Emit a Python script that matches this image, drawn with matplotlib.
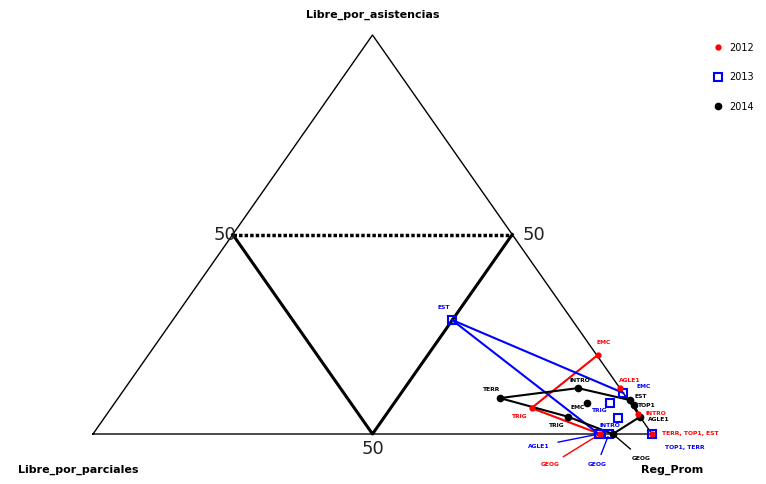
import matplotlib.pyplot as plt

# composiciones: (Reg_Prom, Libre_por_asistencias, Libre_por_parciales) en %
materias_2012 = ['EMC', 'AGLE1', 'INTRO', 'TERR, TOP1, EST', 'TRIG', 'GEOG']
reg_2012 = [80.4, 88.5, 94.9, 100.0, 75.2, 90.7]
asi_2012 = [19.8, 11.5, 5.1, 0.0, 6.5, 0.0]

materias_2013 = ['EST', 'EMC', 'TRIG', 'INTRO', 'AGLE1', 'GEOG', 'TOP1, TERR']
reg_2013 = [49.9, 89.7, 88.6, 91.9, 90.5, 92.3, 100.0]
asi_2013 = [28.6, 10.3, 7.8, 4.0, 0.0, 0.0, 0.0]

materias_2014 = ['TERR', 'INTRO', 'EMC', 'TRIG', 'EST', 'TOP1', 'AGLE1', 'GEOG']
reg_2014 = [68.3, 81.0, 84.5, 82.9, 91.8, 93.1, 95.7, 93.0]
asi_2014 = [9.0, 11.5, 7.8, 4.3, 8.5, 7.3, 4.3, 0.0]

# orden del polígono (envolvente) por año
hull_2012 = ['TRIG', 'EMC', 'AGLE1', 'INTRO', 'TERR, TOP1, EST', 'GEOG', 'TRIG']
hull_2013 = ['EST', 'EMC', 'TOP1, TERR', 'AGLE1', 'EST']
hull_2014 = ['TERR', 'INTRO', 'EST', 'TOP1', 'AGLE1', 'GEOG', 'TRIG', 'TERR']


def to_xy(reg, asi):
    # coordenadas cartesianas del triángulo
    x = [(r + a / 2) / 100 for r, a in zip(reg, asi)]
    y = [a / 100 for a in asi]
    return x, y


def en_borde(r, a):
    # punto sobre el lado derecho o la base
    return abs(100 - r - a) < 0.5 or a < 0.5


fig = plt.figure(figsize=(7.66, 4.84), dpi=100)
ax = fig.add_axes([0, 0, 1, 1])
ax.set_xlim(-93 / 559, 673 / 559)
ax.set_ylim(-50 / 399, 434 / 399)
ax.axis('off')

# triángulo exterior
ax.plot([0, 1, 0.5, 0], [0, 0, 1, 0], color='black', lw=1, zorder=2)
# triángulo interior (50%)
ax.plot([0.25, 0.5, 0.75], [0.5, 0, 0.5], color='black', lw=2.2)
ax.plot([0.25, 0.75], [0.5, 0.5], color='black', lw=2.5, ls=(0, (1, 0.6)))

ax.annotate('50', (0.25, 0.5), xytext=(4, 0), textcoords='offset pixels',
            ha='right', va='center', fontsize=13, color='#222222')
ax.annotate('50', (0.75, 0.5), xytext=(10, 0), textcoords='offset pixels',
            ha='left', va='center', fontsize=13, color='#222222')
ax.text(0.5, -0.015, '50', ha='center', va='top', fontsize=13, color='#222222')

ax.text(0.5, 1.05, 'Libre_por_asistencias', ha='center', va='center', fontsize=8, fontweight='bold')
ax.text(-0.027, -0.09, 'Libre_por_parciales', ha='center', va='center', fontsize=8, fontweight='bold')
ax.text(1.036, -0.09, 'Reg_Prom', ha='center', va='center', fontsize=8, fontweight='bold')

series = [
    (materias_2012, reg_2012, asi_2012, hull_2012, 'red', 'o', '2012'),
    (materias_2013, reg_2013, asi_2013, hull_2013, 'blue', 's', '2013'),
    (materias_2014, reg_2014, asi_2014, hull_2014, 'black', 'o', '2014'),
]

for nombres, reg, asi, hull, color, mk, anio in series:
    x, y = to_xy(reg, asi)
    idx = [nombres.index(n) for n in hull]
    for i, j in zip(idx[:-1], idx[1:]):
        if color != 'black' and en_borde(reg[i], asi[i]) and en_borde(reg[j], asi[j]):
            continue
        ax.plot([x[i], x[j]], [y[i], y[j]], color=color, lw=1.5, zorder=3)
    if mk == 's':
        ax.plot(x, y, ls='none', marker='s', ms=6, mfc='none', mec=color, mew=1.5, zorder=4, label=anio)
    elif color == 'red':
        ax.plot(x, y, ls='none', marker='o', ms=3.5, color=color, zorder=5, label=anio)
    else:
        ax.plot(x, y, ls='none', marker='o', ms=4.5, color=color, zorder=4, label=anio)

# etiquetas de puntos (desplazamiento en pixeles)
offsets = {
    ('red', 'EMC'): (6, 12, None),
    ('red', 'AGLE1'): (10, 8, None),
    ('red', 'INTRO'): (18, 0, None),
    ('red', 'TERR, TOP1, EST'): (38, 0, None),
    ('red', 'TRIG'): (-12, -8, None),
    ('red', 'GEOG'): (-50, -31, 'line'),
    ('blue', 'EST'): (-8, 12, None),
    ('blue', 'EMC'): (20, 6, None),
    ('blue', 'TRIG'): (-10, -8, None),
    ('blue', 'INTRO'): (-8, -7, None),
    ('blue', 'AGLE1'): (-60, -12, 'line'),
    ('blue', 'GEOG'): (-12, -31, 'line'),
    ('blue', 'TOP1, TERR'): (33, -14, None),
    ('black', 'TERR'): (-8, 9, None),
    ('black', 'INTRO'): (2, 8, None),
    ('black', 'EMC'): (-10, -5, None),
    ('black', 'TRIG'): (-12, -9, None),
    ('black', 'EST'): (11, 4, None),
    ('black', 'TOP1'): (13, -1, None),
    ('black', 'AGLE1'): (19, -3, None),
    ('black', 'GEOG'): (28, -24, 'line'),
}

for nombres, reg, asi, hull, color, mk, anio in series:
    x, y = to_xy(reg, asi)
    for n, xi, yi in zip(nombres, x, y):
        dx, dy, linea = offsets[(color, n)]
        props = dict(arrowstyle='-', color=color, lw=1, shrinkA=4, shrinkB=2) if linea else None
        ax.annotate(n, (xi, yi), xytext=(dx, dy), textcoords='offset pixels',
                    ha='center', va='center', fontsize=4.3, color=color,
                    fontweight='bold', arrowprops=props)

leg = ax.legend(loc='upper left', bbox_to_anchor=(0.92, 0.93), frameon=False,
                fontsize=7, handletextpad=0.6, labelspacing=2.0, handlelength=1)

fig.savefig('out.png', dpi=100)
